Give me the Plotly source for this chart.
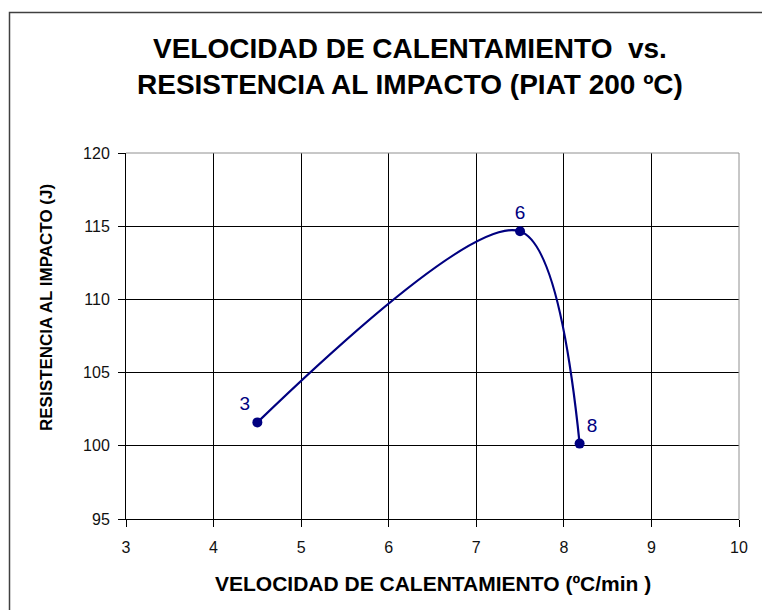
import plotly.graph_objects as go

# Data
heating_rate = [4.5, 7.5, 8.18]            # VELOCIDAD DE CALENTAMIENTO (ºC/min)
impact_resistance = [101.6, 114.65, 100.15]  # RESISTENCIA AL IMPACTO (J)
point_labels = ["3", "6", "8"]
label_positions = ["top left", "top center", "top right"]

x_ticks = [3, 4, 5, 6, 7, 8, 9, 10]
y_ticks = [95, 100, 105, 110, 115, 120]

NAVY = "#000080"
FONT = "Liberation Sans, Arial, sans-serif"

fig = go.Figure()
fig.add_trace(go.Scatter(
    x=heating_rate, y=impact_resistance,
    mode="lines+markers+text",
    line=dict(color=NAVY, width=2.2, shape="spline", smoothing=0.9),
    marker=dict(color=NAVY, size=10, symbol="circle"),
    text=point_labels, textposition=label_positions,
    textfont=dict(family=FONT, size=19, color=NAVY),
    cliponaxis=False, showlegend=False, hoverinfo="x+y",
))

# page has an 8px body margin, so figure coords = page coords - 8
W, H = 762, 602
L, R, T, B = 118, 31, 145, 91
pw, ph = W - L - R, H - T - B

def px_x(px):
    return (px - L) / pw

def px_y(py):
    return (H - B - py) / ph

fig.update_layout(
    width=W, height=H,
    margin=dict(l=L, r=R, t=T, b=B),
    paper_bgcolor="white", plot_bgcolor="white",
    font=dict(family=FONT, color="black"),
    showlegend=False,
    xaxis=dict(
        range=[3, 10], tickvals=x_ticks, ticktext=[str(v) for v in x_ticks],
        showgrid=True, gridcolor="black", gridwidth=1,
        showline=True, linecolor="black", linewidth=1, mirror=False,
        ticks="outside", ticklen=7, tickcolor="black",
        tickfont=dict(family=FONT, size=16, color="#111111"),
        ticklabelstandoff=7,
        zeroline=False,
    ),
    yaxis=dict(
        range=[95, 120], tickvals=y_ticks, ticktext=[str(v) for v in y_ticks],
        showgrid=True, gridcolor="black", gridwidth=1,
        showline=True, linecolor="black", linewidth=1, mirror=False,
        ticks="outside", ticklen=7, tickcolor="black",
        tickfont=dict(family=FONT, size=16, color="#111111"),
        ticklabelstandoff=5,
        zeroline=False,
    ),
    shapes=[
        dict(type="line", xref="paper", yref="paper", x0=0, x1=1, y0=1, y1=1,
             line=dict(color="#909090", width=1)),
        dict(type="line", xref="paper", yref="paper", x0=1, x1=1, y0=0, y1=1,
             line=dict(color="#909090", width=1)),
        dict(type="rect", xref="paper", yref="paper",
             x0=px_x(1.5), x1=px_x(790), y0=px_y(630), y1=px_y(4.5),
             line=dict(color="#404040", width=1.5), layer="below"),
    ],
    annotations=[
        dict(text="<b>VELOCIDAD DE CALENTAMIENTO  vs.</b><br><b>RESISTENCIA AL IMPACTO (PIAT 200 ºC)</b>",
             xref="paper", yref="paper", x=px_x(402), y=px_y(59),
             xanchor="center", yanchor="middle", showarrow=False,
             font=dict(family=FONT, size=28, color="black")),
        dict(text="<b>VELOCIDAD DE CALENTAMIENTO (ºC/min )</b>",
             xref="paper", yref="paper", x=px_x(424.5), y=px_y(575),
             xanchor="center", yanchor="middle", showarrow=False,
             font=dict(family=FONT, size=21, color="black")),
        dict(text="<b>RESISTENCIA AL IMPACTO (J)</b>",
             xref="paper", yref="paper", x=px_x(38), y=px_y(300),
             xanchor="center", yanchor="middle", showarrow=False, textangle=-90,
             font=dict(family=FONT, size=17, color="black")),
    ],
)

fig.write_html("out.html")
